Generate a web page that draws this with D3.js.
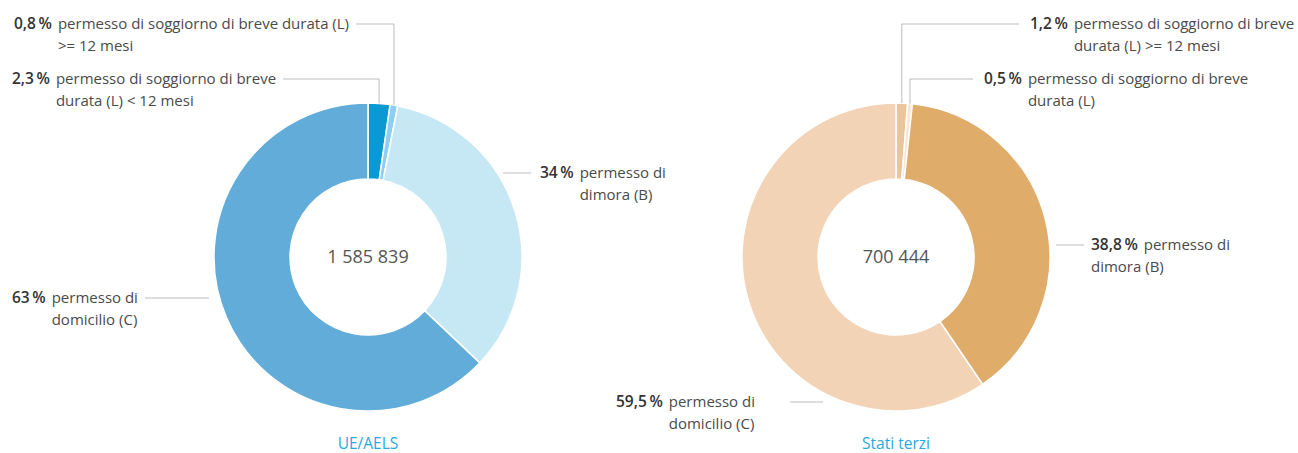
<html>
<head>
<meta http-equiv="Content-Type" content="text/html; charset=utf-8" />
<script src="https://cdn.jsdelivr.net/npm/d3@7/dist/d3.min.js"></script>
<style type="text/css">
body { margin: 0; background: #fff; }
text { font-family: "Open Sans", "Noto Sans", sans-serif; }
</style>
</head>
<body>
<svg id="chart" width="1298" height="453"></svg>
<script type="text/javascript">
// dati
var euTitle   = "UE/AELS";
var euTotal   = "1 585 839";
var euValues  = [2.3, 0.8, 34, 63];
var euNums    = ["2,3\u2009%", "0,8\u2009%", "34\u2009%", "63\u2009%"];
var euLabels  = [
	["permesso di soggiorno di breve", "durata (L) < 12 mesi"],
	["permesso di soggiorno di breve durata (L)", ">= 12 mesi"],
	["permesso di", "dimora (B)"],
	["permesso di", "domicilio (C)"]
];
var euColors  = ["#0b98d3", "#8ccff0", "#c6e8f5", "#62acd9"];

var thTitle   = "Stati terzi";
var thTotal   = "700 444";
var thValues  = [1.2, 0.5, 38.8, 59.5];
var thNums    = ["1,2\u2009%", "0,5\u2009%", "38,8\u2009%", "59,5\u2009%"];
var thLabels  = [
	["permesso di soggiorno di breve", "durata (L) >= 12 mesi"],
	["permesso di soggiorno di breve", "durata (L)"],
	["permesso di", "dimora (B)"],
	["permesso di", "domicilio (C)"]
];
var thColors  = ["#e8c59c", "#f8e5d3", "#e0ac69", "#f3d3b6"];

var svg = d3.select("#chart");
var R_OUT = 154, R_IN = 78;

/* posizione delle etichette: tipo "top" = linea orizzontale + verticale verso lo spicchio,
   tipo "side" = solo linea orizzontale */
var euLayout = [
	{type: "top",  x: 12,  y: 84,  indent: true},
	{type: "top",  x: 14,  y: 29,  indent: true},
	{type: "side", x: 540, y: 178, indent: true, lx1: 503, lx2: 531},
	{type: "side", x: 12,  y: 303, indent: true, lx1: 145, lx2: 209}
];
var thLayout = [
	{type: "top",  x: 1030, y: 29,  indent: true, right: true},
	{type: "top",  x: 984,  y: 84,  indent: true, right: true},
	{type: "side", x: 1091, y: 250, indent: false, lx1: 1056, lx2: 1084},
	{type: "side", x: 616,  y: 407, indent: true, lx1: 790, lx2: 823}
];

function drawDonut(cx, cy, values, colors, nums, labels, layout, total, title)
{
	var pie = d3.pie().sort(null).value(function(d) { return d; });
	var arc = d3.arc().innerRadius(R_IN).outerRadius(R_OUT);
	var arcs = pie(values);

	var g = svg.append("g").attr("transform", "translate(" + cx + "," + cy + ")");

	g.selectAll("path")
	.data(arcs)
	.enter().append("path")
	.attr("d", arc)
	.attr("fill", function(d, i) { return colors[i]; })
	.attr("stroke", "#fff")
	.attr("stroke-width", 1.5);

	g.append("text")
	.attr("text-anchor", "middle")
	.attr("y", 6)
	.attr("font-size", "18px")
	.attr("fill", "#555")
	.text(total);

	svg.append("text")
	.attr("x", cx)
	.attr("y", cy + 192)
	.attr("text-anchor", "middle")
	.attr("font-size", "15.5px")
	.attr("fill", "#2aa8e0")
	.text(title);

	arcs.forEach(function(a, i)
	{
		var L = layout[i];
		var t = svg.append("text")
		.attr("font-size", "15px")
		.attr("fill", "#333");

		var n = t.append("tspan")
		.attr("x", L.x)
		.attr("y", L.y)
		.attr("font-weight", "600")
		.attr("font-size", "15.5px")
		.text(nums[i]);

		var numW = n.node().getComputedTextLength();
		var tx = L.x + numW + 6;

		var first = t.append("tspan")
		.attr("x", tx)
		.attr("y", L.y)
		.attr("fill", "#4a4a4a")
		.text(labels[i][0]);

		t.append("tspan")
		.attr("x", L.indent ? tx : L.x)
		.attr("y", L.y + 22)
		.attr("fill", "#4a4a4a")
		.text(labels[i][1]);

		var ly = L.y - 5;
		var lines = svg.append("path")
		.attr("fill", "none")
		.attr("stroke", "#bbb")
		.attr("stroke-width", 1);

		if ( L.type == "top" )
		{
			var mid = (a.startAngle + a.endAngle) / 2;
			var px = cx + R_OUT * Math.sin(mid);
			var py = cy - R_OUT * Math.cos(mid);
			var hx;
			if ( L.right )
			{
				hx = L.x - 11;
			}
			else
			{
				hx = tx + first.node().getComputedTextLength() + 7;
			}
			lines.attr("d", "M" + hx + "," + ly + " L" + px + "," + ly + " L" + px + "," + py);
		}
		else
		{
			lines.attr("d", "M" + L.lx1 + "," + ly + " L" + L.lx2 + "," + ly);
		}
	});
}

drawDonut(368, 257, euValues, euColors, euNums, euLabels, euLayout, euTotal, euTitle);
drawDonut(896, 257, thValues, thColors, thNums, thLabels, thLayout, thTotal, thTitle);
</script>
</body>
</html>
